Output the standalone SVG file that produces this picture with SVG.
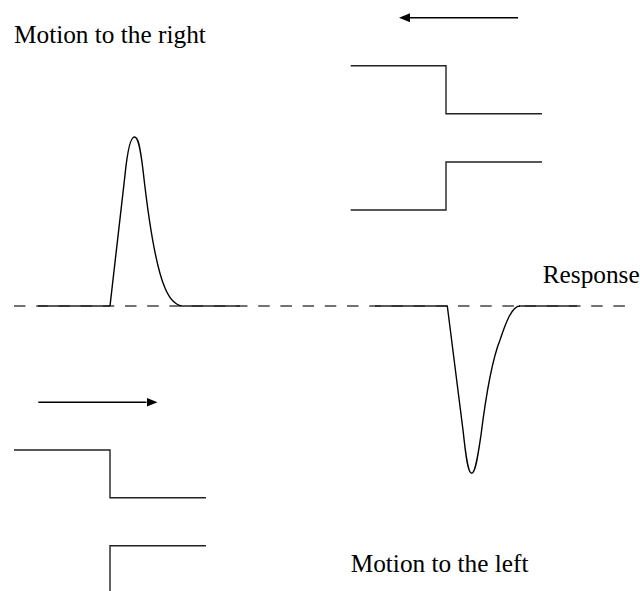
<svg xmlns="http://www.w3.org/2000/svg" width="640" height="591" viewBox="0 0 640 591">
  <style>
    .lbl { font-family: "Liberation Serif", "Times New Roman", serif; font-size: 25.3px; fill: #000; }
    .step { fill: none; stroke: #222; stroke-width: 1.4; }
    .curve { fill: none; stroke: #000; stroke-width: 1.4; stroke-linejoin: round; }
    .axis { fill: none; stroke: #444; stroke-width: 1.4; stroke-dasharray: 11.5 10.7; }
    .solid { fill: none; stroke: #222; stroke-width: 1.6; }
    .arr { fill: none; stroke: #000; stroke-width: 1.4; }
  </style>
  <defs>
    <marker id="head" markerUnits="userSpaceOnUse" markerWidth="12" markerHeight="10" refX="0" refY="4.5" orient="auto">
      <path d="M0,0 L11,4.5 L0,9 z" fill="#000"/>
    </marker>
  </defs>

  <g id="baseline">
    <line class="axis" x1="14" y1="306" x2="625" y2="306"/>
    <line class="solid" x1="38" y1="306" x2="110" y2="306"/>
    <line class="solid" x1="182" y1="306" x2="240" y2="306"/>
    <line class="solid" x1="375" y1="306" x2="448" y2="306"/>
    <line class="solid" x1="519" y1="306" x2="577" y2="306"/>
  </g>

  <g id="response-right-motion">
    <path class="curve" d="M110,306 L125,175 C127.5,150 130.5,137 134.5,137 C138,137 140,145 143,170 C148,215 155,265 165,288 C170,300 176,305 182,306"/>
  </g>

  <g id="response-left-motion">
    <path class="curve" d="M447.3,306 L463,430 C466,458 468,473.3 471.7,473.3 C475.5,473.3 478,455 481,435 C486,395 492,360 500,340 C506,322 512,306 520,306"/>
  </g>

  <g id="stimulus-left">
    <line class="arr" x1="518" y1="17.7" x2="410" y2="17.7" marker-end="url(#head)"/>
    <polyline class="step" points="350.7,65.7 446,65.7 446,113.7 542,113.7"/>
    <polyline class="step" points="350.7,210 446,210 446,162 542,162"/>
  </g>

  <g id="stimulus-right">
    <line class="arr" x1="38.3" y1="402.3" x2="146.5" y2="402.3" marker-end="url(#head)"/>
    <polyline class="step" points="14,450 110,450 110,497.7 206,497.7"/>
    <polyline class="step" points="110,591 110,545.7 206,545.7"/>
  </g>

  <g id="labels">
    <text class="lbl" x="14" y="42.7">Motion to the right</text>
    <text class="lbl" x="542.7" y="283.3">Response</text>
    <text class="lbl" x="350.7" y="571.7">Motion to the left</text>
  </g>
</svg>
